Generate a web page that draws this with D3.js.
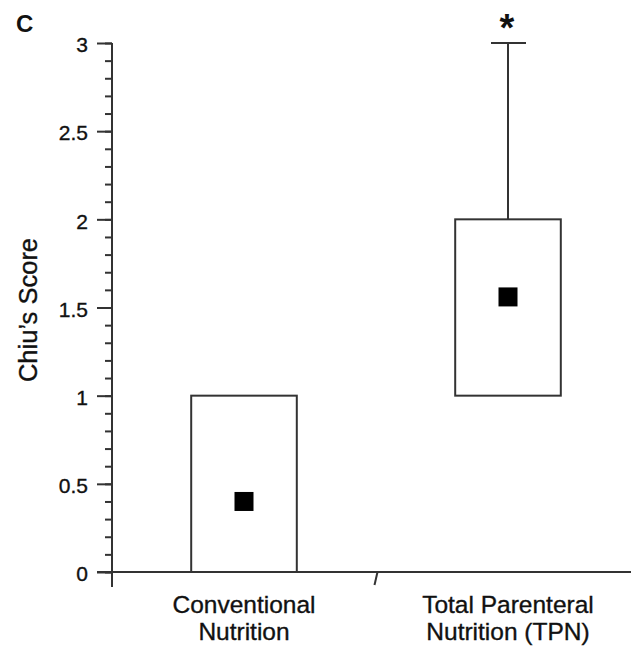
<!DOCTYPE html>
<html>
<head>
<meta charset="utf-8">
<script src="https://cdn.jsdelivr.net/npm/d3@7"></script>
<style>
  html, body { margin: 0; padding: 0; background: #fff; }
  svg { display: block; }
  text { font-family: "Liberation Sans", Arial, Helvetica, sans-serif; fill: #111; }
</style>
</head>
<body>
<svg id="chart" width="631" height="648"></svg>
<script>
// ---- data ----
const categories = ["Conventional Nutrition", "Total Parenteral Nutrition (TPN)"];
const categoryLines = [["Conventional", "Nutrition"], ["Total Parenteral", "Nutrition (TPN)"]];
const boxLow = [0, 1];        // lower box edge
const boxHigh = [1, 2];       // upper box edge
const whiskerHigh = [1, 3];   // upper whisker
const centerValues = [0.4, 1.56]; // filled square marker
const significance = ["", "*"];
const majorTicks = [0, 0.5, 1, 1.5, 2, 2.5, 3];
const majorTickLabels = ["0", "0.5", "1", "1.5", "2", "2.5", "3"];
const minorTicks = d3.range(0, 31).map(i => i / 10);
const yTitle = "Chiu\u2019s Score";
const panelLabel = "C";

// ---- layout ----
const svg = d3.select("#chart");
const axisColor = "#333";
const textStroke = 0.35;
const y = d3.scaleLinear().domain([0, 3]).range([572, 43]);
const x = d3.scaleBand().domain(categories).range([112, 640]).padding(0);
const boxW = x.bandwidth() * 0.4;
const x0 = x.range()[0];

// minor ticks
svg.append("g")
  .attr("transform", `translate(${x0},0)`)
  .call(d3.axisLeft(y).tickValues(minorTicks).tickSize(7).tickFormat(""))
  .call(g => g.select(".domain").remove())
  .call(g => g.selectAll("line").attr("stroke", axisColor).attr("stroke-width", 2));

// major ticks with labels
svg.append("g")
  .attr("transform", `translate(${x0},0)`)
  .call(d3.axisLeft(y).tickValues(majorTicks).tickSize(15).tickPadding(9)
        .tickFormat((d, i) => majorTickLabels[i]))
  .call(g => g.select(".domain").remove())
  .call(g => g.selectAll("line").attr("stroke", axisColor).attr("stroke-width", 2))
  .call(g => g.selectAll("text").attr("font-size", 21).attr("fill", "#111")
        .attr("stroke", "#111").attr("stroke-width", textStroke)
        .attr("font-family", "Liberation Sans, Arial, sans-serif").attr("dy", "0.42em"));

// y axis line (extends below x axis)
svg.append("line")
  .attr("x1", x0).attr("x2", x0)
  .attr("y1", y(3)).attr("y2", y(0) + 15)
  .attr("stroke", axisColor).attr("stroke-width", 2);

// x axis line
svg.append("line")
  .attr("x1", x0 - 15).attr("x2", 631)
  .attr("y1", y(0)).attr("y2", y(0))
  .attr("stroke", axisColor).attr("stroke-width", 2);

// category separator tick
const sepX = x(categories[1]);
svg.append("line")
  .attr("x1", sepX + 1.5).attr("x2", sepX - 1.5)
  .attr("y1", y(0)).attr("y2", y(0) + 13)
  .attr("stroke", axisColor).attr("stroke-width", 2);

// boxes, whiskers, markers
const groups = svg.append("g").selectAll("g")
  .data(categories).join("g");

groups.each(function(c, i) {
  const g = d3.select(this);
  const cx = x(c) + x.bandwidth() / 2;
  if (whiskerHigh[i] > boxHigh[i]) {
    g.append("line")
      .attr("x1", cx).attr("x2", cx)
      .attr("y1", y(boxHigh[i])).attr("y2", y(whiskerHigh[i]))
      .attr("stroke", axisColor).attr("stroke-width", 2);
    g.append("line")
      .attr("x1", cx - 17).attr("x2", cx + 18)
      .attr("y1", y(whiskerHigh[i])).attr("y2", y(whiskerHigh[i]))
      .attr("stroke", axisColor).attr("stroke-width", 2);
  }
  g.append("rect")
    .attr("x", cx - boxW / 2)
    .attr("y", y(boxHigh[i]))
    .attr("width", boxW)
    .attr("height", y(boxLow[i]) - y(boxHigh[i]))
    .attr("fill", "#fff")
    .attr("stroke", axisColor).attr("stroke-width", 2);
  const s = 19;
  g.append("rect")
    .attr("x", cx - s / 2)
    .attr("y", y(centerValues[i]) - s / 2)
    .attr("width", s).attr("height", s)
    .attr("fill", "#000");
  if (significance[i]) {
    g.append("text")
      .attr("x", cx - 1).attr("y", 41)
      .attr("text-anchor", "middle")
      .attr("font-size", 38).attr("font-weight", "bold")
      .text(significance[i]);
  }
  const t = g.append("text")
    .attr("text-anchor", "middle")
    .attr("font-size", 24.5)
    .attr("stroke", "#111").attr("stroke-width", textStroke);
  categoryLines[i].forEach((line, k) => {
    t.append("tspan").attr("x", cx).attr("y", 613 + k * 27).text(line);
  });
});

// y axis title
svg.append("text")
  .attr("transform", "translate(37,310) rotate(-90)")
  .attr("text-anchor", "middle")
  .attr("font-size", 25.5)
  .attr("stroke", "#111").attr("stroke-width", textStroke)
  .text(yTitle);

// panel label
svg.append("text")
  .attr("x", 16).attr("y", 32)
  .attr("font-size", 24).attr("font-weight", "bold")
  .text(panelLabel);
</script>
</body>
</html>
